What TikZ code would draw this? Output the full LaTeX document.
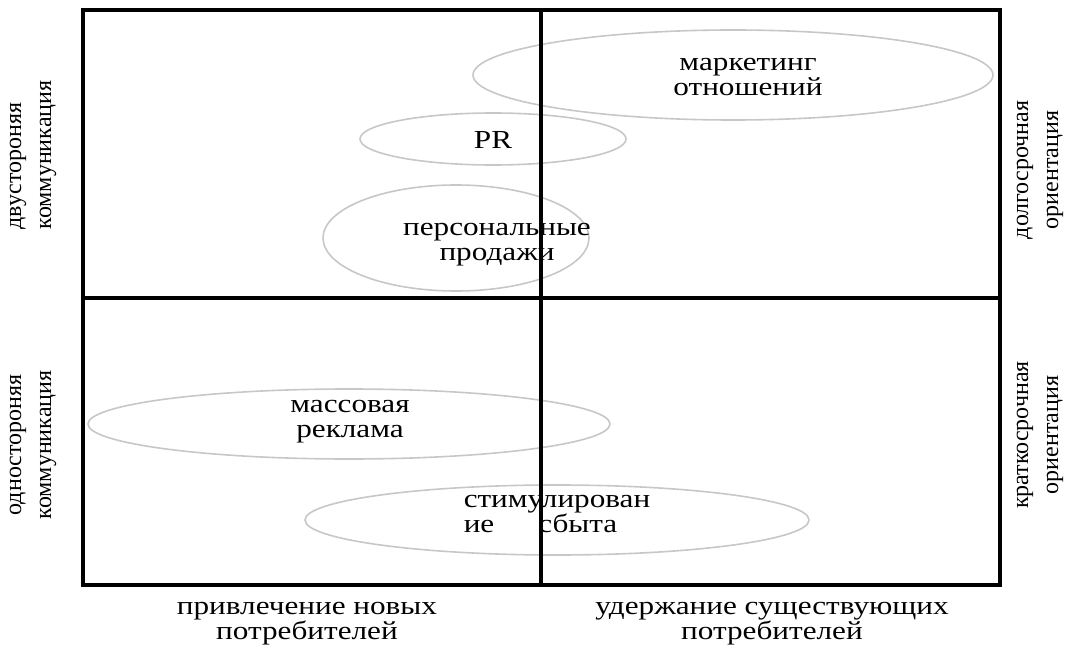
\documentclass[tikz,border=0pt]{standalone}
\usepackage{fontspec}
\setmainfont{Liberation Serif}
\newfontfamily\widefont[FakeStretch=1.2]{Liberation Serif}
\usetikzlibrary{shapes.geometric}

\begin{document}
\begin{tikzpicture}[x=1pt, y=-1pt,
  oval/.style={ellipse, draw=black!22, line width=1.6pt, inner sep=0pt},
  txt/.style={align=center, font=\widefont\fontsize{26}{25}\selectfont},
  sidetxt/.style={rotate=90, align=center, font=\fontsize{24}{30}\selectfont},
  frameline/.style={line width=3.8pt, black},
]
  \useasboundingbox (0,0) rectangle (1077,650);

  % ellipses
  \node[oval, minimum width=520pt, minimum height=90pt] (relm) at (733,75) {};
  \node[oval, minimum width=266pt, minimum height=52pt] (pr) at (493,139) {};
  \node[oval, minimum width=266pt, minimum height=106pt] (pers) at (456,238) {};
  \node[oval, minimum width=522pt, minimum height=70pt] (mass) at (349,424) {};
  \node[oval, minimum width=504pt, minimum height=70pt] (stim) at (557,520) {};

  % texts in ellipses
  \node[txt] (relmtxt) at (748,77) {маркетинг\\отношений};
  \node[txt] (prtxt) at (493,140) {PR};
  \node[txt] (perstxt) at (497,245) {персональные\\продажи};
  \node[txt] (masstxt) at (350,422) {массовая\\реклама};
  \node[txt, align=left] (stimtxt) at (557,514) {стимулирован\\ие\hspace{44pt}сбыта};

  % axis texts
  \node[txt] (newc) at (307,624) {привлечение новых\\потребителей};
  \node[txt] (keepc) at (772,624) {удержание существующих\\потребителей};
  \node[sidetxt, align=left] (twoway) at (33,155) {двустороняя\\коммуникация};
  \node[sidetxt] (oneway) at (33,445) {одностороняя\\коммуникация};
  \node[sidetxt] (longo) at (1040,170) {долгосрочная\\ориентация};
  \node[sidetxt] (shorto) at (1040,435) {краткосрочная\\ориентация};

  % frame
  \coordinate (tl) at (83,10);
  \coordinate (br) at (1000,585);
  \coordinate (mt) at (541,10);
  \coordinate (mb) at (541,585);
  \coordinate (ml) at (83,298);
  \coordinate (mr) at (1000,298);
  \draw[frameline] (tl) rectangle (br);
  \draw[frameline] (mt) -- (mb);
  \draw[frameline] (ml) -- (mr);
\end{tikzpicture}
\end{document}
